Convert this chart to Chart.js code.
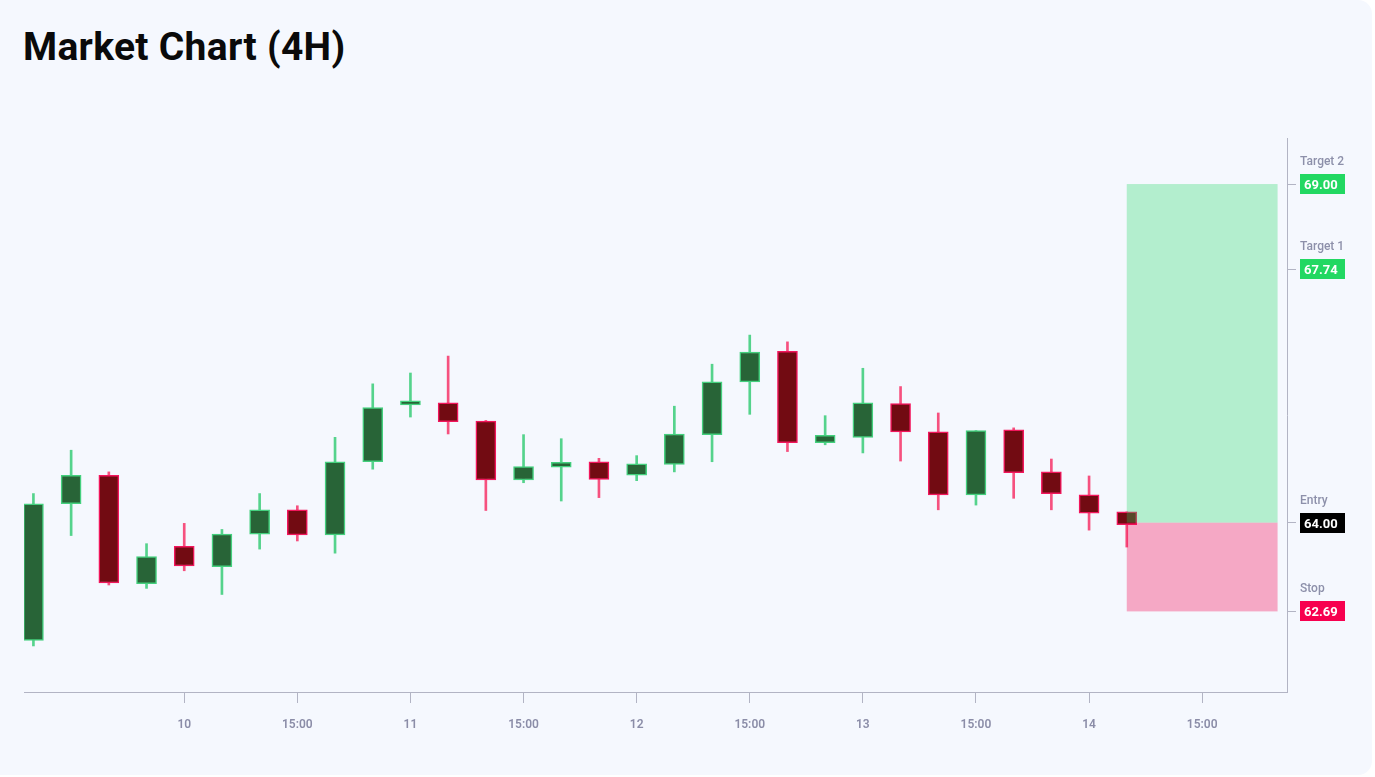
<!DOCTYPE html>
<html>
<head>
<meta charset="utf-8">
<script src="https://cdn.jsdelivr.net/npm/chart.js@4.4.1/dist/chart.umd.min.js"></script>
<style>
  html, body { margin: 0; padding: 0; background: #ffffff; }
  .card {
    position: absolute; left: 0; top: 0; width: 1372px; height: 775px;
    background: #f5f8fe; border-radius: 0 14px 14px 0; overflow: hidden;
  }
  h1 {
    position: absolute; left: 23px; top: 28px; margin: 0;
    font-family: Roboto, sans-serif; font-weight: 700; font-size: 39px; line-height: 1;
    letter-spacing: 0.3px; color: #0a0a0a;
  }
  .wrap { position: absolute; left: 0; top: 100px; width: 1372px; height: 677px; }
</style>
</head>
<body>
<div class="card">
  <h1>Market Chart (4H)</h1>
  <div class="wrap"><canvas id="market"></canvas></div>
</div>
<script>
// 4H candles
const opens  = [62.26, 64.28, 64.70, 63.10, 63.65, 63.35, 63.83, 64.19, 63.82, 64.90,
                65.74, 65.77, 65.50, 64.63, 64.82, 64.90, 64.70, 64.86, 65.30, 66.08,
                66.53, 65.18, 65.26, 65.76, 65.34, 64.41, 65.37, 64.75, 64.41, 64.16];
const highs  = [64.43, 65.07, 64.75, 63.69, 63.99, 63.90, 64.43, 64.25, 65.26, 66.05,
                66.21, 66.46, 65.51, 65.30, 65.24, 64.95, 64.99, 65.72, 66.34, 66.77,
                66.67, 65.58, 66.28, 66.01, 65.62, 65.36, 65.40, 64.94, 64.69, 64.16];
const lows   = [62.18, 63.81, 63.08, 63.03, 63.29, 62.94, 63.61, 63.73, 63.55, 64.79,
                65.56, 65.31, 64.18, 64.59, 64.32, 64.37, 64.62, 64.75, 64.90, 65.60,
                65.05, 65.15, 65.03, 64.91, 64.19, 64.26, 64.36, 64.19, 63.89, 63.64];
const closes = [64.28, 64.70, 63.11, 63.50, 63.36, 63.83, 64.19, 63.82, 64.90, 65.70,
                65.76, 65.49, 64.63, 64.83, 64.89, 64.64, 64.87, 65.31, 66.08, 66.52,
                65.18, 65.29, 65.77, 65.34, 64.41, 65.36, 64.74, 64.43, 64.14, 63.97];

// x ticks (candle slot index -> label)
const tickSlots  = [4, 7, 10, 13, 16, 19, 22, 25, 28, 31];
const tickLabels = ['10', '15:00', '11', '15:00', '12', '15:00', '13', '15:00', '14', '15:00'];

// trade levels
const levelNames  = ['Target 2', 'Target 1', 'Entry', 'Stop'];
const levelValues = [69.00, 67.74, 64.00, 62.69];
const levelColors = ['#22d862', '#22d862', '#000000', '#f7004f'];

// projection box, in candle slots
const zoneStart = 29;
const zoneEnd = 33;

const UP_BODY = '#286437', UP_EDGE = '#44d07e', UP_WICK = '#55d38c';
const DN_BODY = '#720b12', DN_EDGE = '#f2165c', DN_WICK = '#f6517f';
const AXIS = '#b2b4c4';

const isUp = opens.map((o, i) => closes[i] >= o);

const bodies = opens.map((o, i) => ({ x: i, y: [o, closes[i]] }));
const wicks = lows.map((l, i) => ({ x: i, y: [l, highs[i]] }));

// profit / loss zones, drawn over the candles
const zonePlugin = {
    id: 'zones',
    afterDatasetsDraw(chart) {
        const { ctx, scales: { x, y } } = chart;
        const x0 = x.getPixelForValue(zoneStart), x1 = x.getPixelForValue(zoneEnd);
        const yT = y.getPixelForValue(levelValues[0]);
        const yE = y.getPixelForValue(levelValues[2]);
        const yS = y.getPixelForValue(levelValues[3]);
        ctx.save();
        ctx.fillStyle = 'rgba(25, 214, 96, 0.3)';
        ctx.fillRect(x0, yT, x1 - x0, yE - yT);
        ctx.fillStyle = 'rgba(247, 0, 79, 0.32)';
        ctx.fillRect(x0, yE, x1 - x0, yS - yE);
        ctx.restore();
    }
};

// price tags on the right axis
const tagPlugin = {
    id: 'tags',
    afterDraw(chart) {
        const { ctx, scales: { y } } = chart;
        const left = y.left + 13;
        ctx.save();
        levelValues.forEach((v, i) => {
            const py = Math.round(y.getPixelForValue(v));
            ctx.font = '500 12px Roboto, sans-serif';
            ctx.fillStyle = '#8d90aa';
            ctx.textBaseline = 'alphabetic';
            ctx.fillText(levelNames[i], left, py - 19);
            ctx.fillStyle = levelColors[i];
            ctx.fillRect(left, py - 10, 45, 20);
            ctx.font = '700 13px Roboto, sans-serif';
            ctx.fillStyle = '#ffffff';
            ctx.fillText(v.toFixed(2), left + 4, py + 4.5);
        });
        ctx.restore();
    }
};

new Chart(document.getElementById('market'), {
    type: 'bar',
    data: {
        datasets: [
            {
                label: 'wick',
                data: wicks,
                backgroundColor: isUp.map(u => u ? UP_WICK : DN_WICK),
                barThickness: 2,
                grouped: false,
                order: 2,
            },
            {
                label: 'body',
                data: bodies,
                backgroundColor: isUp.map(u => u ? UP_BODY : DN_BODY),
                borderColor: isUp.map(u => u ? UP_EDGE : DN_EDGE),
                borderWidth: 1.5,
                borderSkipped: false,
                barThickness: 20,
                minBarLength: 4,
                grouped: false,
                order: 1,
            }
        ]
    },
    options: {
        responsive: true,
        maintainAspectRatio: false,
        animation: false,
        layout: { padding: { top: 38, left: 24, right: 0, bottom: 25 } },
        plugins: { legend: { display: false }, tooltip: { enabled: false } },
        scales: {
            x: {
                type: 'linear',
                min: -0.25,
                max: 33.25,
                offset: false,
                afterBuildTicks: (axis) => { axis.ticks = tickSlots.map(v => ({ value: v })); },
                afterFit: (axis) => { axis.height = 60; },
                border: { display: true, color: AXIS, width: 1 },
                grid: { drawOnChartArea: false, offset: false, tickLength: 11, color: AXIS },
                ticks: {
                    padding: 15,
                    color: '#8b8da8',
                    font: { family: 'Roboto', size: 12, weight: '600' },
                    maxRotation: 0,
                    autoSkip: false,
                    callback: (v) => tickLabels[tickSlots.indexOf(v)] ?? ''
                }
            },
            y: {
                position: 'right',
                min: 61.5,
                max: 69.68,
                afterBuildTicks: (axis) => { axis.ticks = levelValues.map(v => ({ value: v })); },
                afterFit: (axis) => { axis.width = 85; },
                border: { display: true, color: AXIS, width: 1 },
                grid: { drawOnChartArea: false, tickLength: 9, color: AXIS },
                ticks: { display: false }
            }
        }
    },
    plugins: [zonePlugin, tagPlugin]
});
</script>
</body>
</html>
